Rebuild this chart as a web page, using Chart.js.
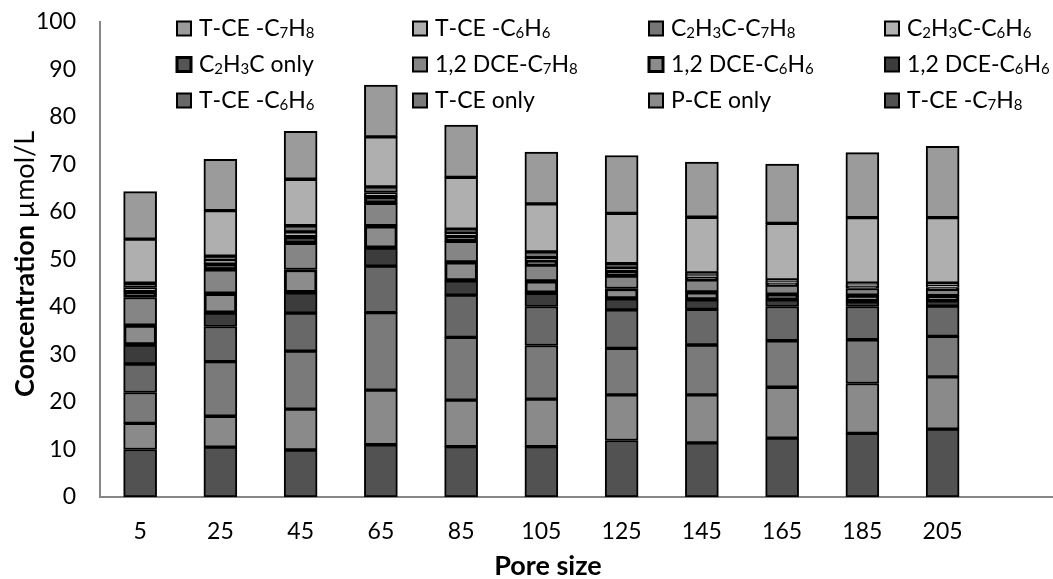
<!doctype html>
<html lang="en">
  <head>
    <meta charset="UTF-8" />
    <title>Concentration by pore size</title>
    <style>
      html, body { margin: 0; padding: 0; background: #fff; overflow: hidden; }
      #wrap { position: absolute; left: 0; top: 0; width: 1070px; height: 579px; }
    </style>
  </head>
  <body>
    <div id="wrap">
      <canvas id="poreChart" width="1070" height="579"></canvas>
    </div>
    <script src="https://cdn.jsdelivr.net/npm/chart.js"></script>
    <script>
      // pore sizes (one empty slot at the end, the axis runs on past 205)
      const poreSizes = ["5", "25", "45", "65", "85", "105", "125", "145", "165", "185", "205", ""];

      // stack order, bottom to top
      const tceC7H8Low = [10, 10.5, 9.9, 11, 10.6, 10.6, 11.9, 11.4, 12.4, 13.4, 14.3];
      const pceOnly = [5.5, 6.5, 8.6, 11.5, 9.8, 10, 9.6, 10.1, 10.7, 10.5, 11];
      const tceOnly = [6.5, 11.5, 12.2, 16.3, 13.2, 11.3, 9.8, 10.5, 9.8, 9.2, 8.5];
      const tceC6H6Low = [6, 7.4, 8, 9.8, 8.9, 8.2, 8.1, 7.5, 7.2, 7, 6.4];
      const dceC6H6Dark = [4, 2.8, 4.3, 3.8, 3, 2.8, 2.3, 2, 1.4, 1, 1.1];
      const dceC6H6Light = [4.2, 4.2, 4.9, 4.7, 4, 2.6, 2.2, 1.7, 1.2, 1.4, 1.1];
      const dceC7H8 = [5.8, 4.9, 5.5, 4.7, 4.3, 3.3, 2.6, 2.5, 1.9, 1.4, 1.3];
      const vcOnly = [1.3, 1.4, 1.4, 1.5, 1.2, 0.9, 1.0, 0.6, 0.4, 0.4, 0.4];
      const vcC6H6 = [0.8, 0.6, 1.0, 0.8, 0.6, 0.7, 0.7, 0.4, 0.3, 0.3, 0.4];
      const vcC7H8 = [0.9, 0.9, 1.3, 1.2, 0.8, 1.2, 0.9, 0.5, 0.4, 0.4, 0.5];
      const tceC6H6High = [9.3, 9.6, 9.8, 10.5, 10.9, 10.1, 10.6, 11.7, 11.9, 13.8, 13.8];
      const tceC7H8High = [10, 10.8, 10.1, 10.9, 11, 10.9, 12.2, 11.6, 12.5, 13.7, 15];

      const seriesNames = [
        "T-CE -C₇H₈", "P-CE only", "T-CE only", "T-CE -C₆H₆",
        "1,2 DCE-C₆H₆", "1,2 DCE-C₆H₆", "1,2 DCE-C₇H₈", "C₂H₃C only",
        "C₂H₃C-C₆H₆", "C₂H₃C-C₇H₈", "T-CE -C₆H₆", "T-CE -C₇H₈",
      ];
      const seriesValues = [
        tceC7H8Low, pceOnly, tceOnly, tceC6H6Low,
        dceC6H6Dark, dceC6H6Light, dceC7H8, vcOnly,
        vcC6H6, vcC7H8, tceC6H6High, tceC7H8High,
      ];
      const seriesColors = [
        "#525252", "#8a8a8a", "#7a7a7a", "#686868",
        "#3c3c3c", "#8c8c8c", "#858585", "#555555",
        "#b2b2b2", "#767676", "#afafaf", "#9b9b9b",
      ];
      const seriesBorders = [2, 2, 2, 2, 2, 3, 2, 3, 2, 2, 2, 2];

      const yTitleBold = "Concentration";
      const yTitleUnit = "µmol/L";
      const xTitle = "Pore size";

      const FONT = "Lato, 'Open Sans', sans-serif";
      const subMap = { "₀": "0", "₁": "1", "₂": "2", "₃": "3", "₄": "4", "₅": "5", "₆": "6", "₇": "7", "₈": "8", "₉": "9" };

      // text with real subscript digits drawn smaller and lower
      function drawRich(ctx, text, x, y, size) {
        ctx.textAlign = "left";
        ctx.textBaseline = "middle";
        let cx = x;
        for (const ch of text) {
          if (subMap[ch]) {
            ctx.font = Math.round(size * 0.66) + "px " + FONT;
            ctx.fillText(subMap[ch], cx, y + size * 0.2);
            cx += ctx.measureText(subMap[ch]).width;
          } else {
            ctx.font = size + "px " + FONT;
            ctx.fillText(ch, cx, y);
            cx += ctx.measureText(ch).width;
          }
        }
      }

      const decorations = {
        id: "decorations",
        afterDraw(chart) {
          const ctx = chart.ctx;
          ctx.save();
          ctx.fillStyle = "#000";

          // legend: 4 columns, top of stack first
          const colX = [177, 413, 649, 885];
          const rowY = [28.5, 64.5, 100.5];
          const ds = chart.data.datasets.slice().reverse();
          ds.forEach((d, i) => {
            const x = colX[i % 4];
            const y = rowY[Math.floor(i / 4)];
            ctx.fillStyle = d.backgroundColor;
            ctx.fillRect(x, y - 7, 14, 14);
            ctx.strokeStyle = "#000";
            ctx.lineWidth = d.borderWidth;
            ctx.strokeRect(x, y - 7, 14, 14);
            ctx.fillStyle = "#000";
            drawRich(ctx, d.label, x + 22, y, 23);
          });

          // y title, bold word then plain unit
          ctx.save();
          ctx.translate(25, 264);
          ctx.rotate(-Math.PI / 2);
          ctx.textBaseline = "middle";
          ctx.textAlign = "left";
          ctx.font = "bold 27px " + FONT;
          const w1 = ctx.measureText(yTitleBold + " ").width;
          ctx.font = "27px " + FONT;
          const w2 = ctx.measureText(yTitleUnit).width;
          let sx = -(w1 + w2) / 2;
          ctx.font = "bold 27px " + FONT;
          ctx.fillText(yTitleBold + " ", sx, 0);
          ctx.font = "27px " + FONT;
          ctx.fillText(yTitleUnit, sx + w1, 0);
          ctx.restore();

          // x title
          ctx.font = "bold 27px " + FONT;
          ctx.textAlign = "center";
          ctx.textBaseline = "middle";
          ctx.fillText(xTitle, 548, 566);
          ctx.restore();
        },
      };

      const ctx = document.getElementById("poreChart").getContext("2d");
      const chart = new Chart(ctx, {
        type: "bar",
        data: {
          labels: poreSizes,
          datasets: seriesValues.map((vals, i) => ({
            label: seriesNames[i],
            data: vals,
            backgroundColor: seriesColors[i],
            borderColor: "#000",
            borderWidth: seriesBorders[i],
            borderSkipped: false,
            barThickness: 33,
          })),
        },
        options: {
          responsive: false,
          devicePixelRatio: 1,
          animation: false,
          layout: { padding: { top: 22, right: 7, left: 0, bottom: 0 } },
          plugins: {
            legend: { display: false },
            tooltip: { enabled: false },
          },
          scales: {
            x: {
              stacked: true,
              grid: { display: false, drawTicks: false },
              border: { color: "#868686", width: 2 },
              ticks: { color: "#000", font: { family: FONT, size: 23 }, padding: 21, maxRotation: 0, autoSkip: false },
              afterFit(scale) { scale.height = 82; },
            },
            y: {
              stacked: true,
              min: 0,
              max: 100,
              grid: { display: false, drawTicks: false },
              border: { color: "#868686", width: 2 },
              ticks: { stepSize: 10, color: "#000", font: { family: FONT, size: 23 }, padding: 24 },
              afterFit(scale) {
                scale.width = 100;
                scale.paddingTop = 0;
                scale.paddingBottom = 0;
              },
            },
          },
        },
        plugins: [decorations],
      });
    </script>
  </body>
</html>
